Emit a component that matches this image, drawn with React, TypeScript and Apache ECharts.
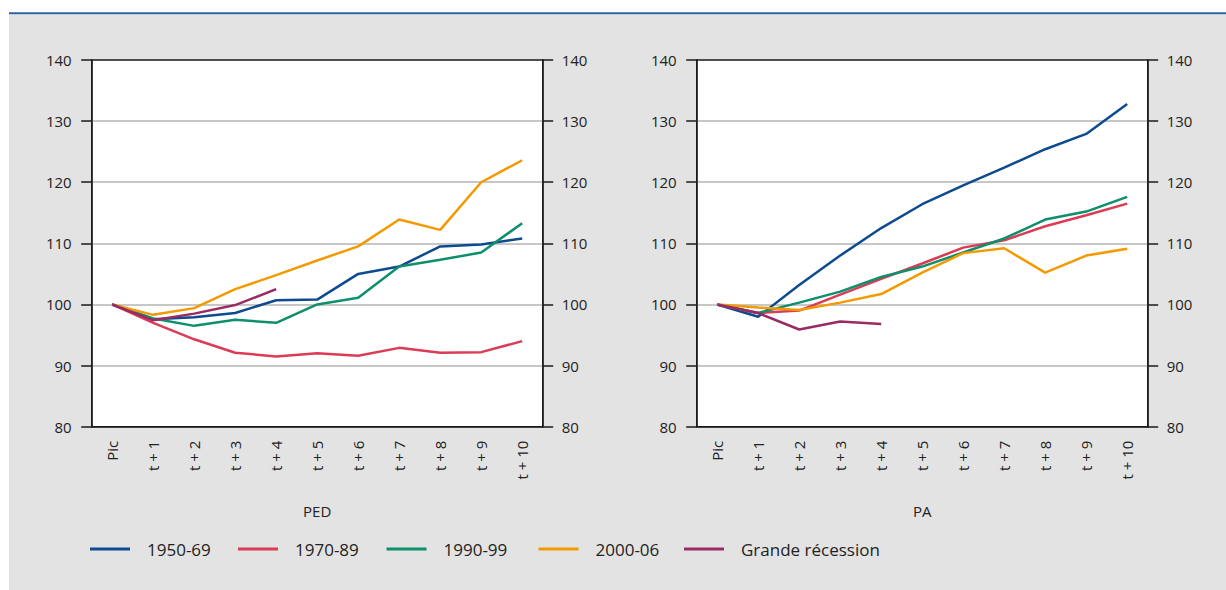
import React, { useEffect, useRef } from "react";
import * as echarts from "echarts";

const categories = ["Pic", "t + 1", "t + 2", "t + 3", "t + 4", "t + 5", "t + 6", "t + 7", "t + 8", "t + 9", "t + 10"];
const seriesNames = ["1950-69", "1970-89", "1990-99", "2000-06", "Grande récession"];
const seriesColors = ["#0d4a8f", "#dc3b55", "#0d8f6b", "#f39a00", "#9a2a63"];
const panelNames = ["PED", "PA"];

// PED panel
const ped1950 = [100, 97.6, 97.9, 98.6, 100.7, 100.8, 105.0, 106.2, 109.5, 109.8, 110.8];
const ped1970 = [100, 97.0, 94.3, 92.1, 91.5, 92.0, 91.6, 92.9, 92.1, 92.2, 94.0];
const ped1990 = [100, 97.7, 96.5, 97.5, 97.0, 100.0, 101.1, 106.2, 107.3, 108.5, 113.3];
const ped2000 = [100, 98.3, 99.4, 102.5, 104.8, 107.2, 109.5, 113.9, 112.2, 120.0, 123.6];
const pedGR = [100, 97.4, 98.5, 99.9, 102.5];

// PA panel
const pa1950 = [100, 98.0, 103.2, 108.0, 112.5, 116.4, 119.5, 122.4, 125.4, 127.9, 132.8];
const pa1970 = [100, 98.6, 99.0, 101.6, 104.2, 106.7, 109.3, 110.5, 112.8, 114.6, 116.5];
const pa1990 = [100, 98.6, 100.3, 102.1, 104.5, 106.2, 108.5, 110.8, 113.9, 115.2, 117.6];
const pa2000 = [100, 99.5, 99.1, 100.3, 101.7, 105.2, 108.4, 109.2, 105.2, 108.0, 109.1];
const paGR = [100, 98.6, 95.9, 97.2, 96.8];

const yMin = 80;
const yMax = 140;
const yInterval = 10;

const FONT = "'Open Sans', 'Noto Sans', sans-serif";
const TEXT = "#222222";
const AXIS = "#1a1a1a";

export default function App() {
  const ref = useRef<HTMLDivElement>(null);

  useEffect(() => {
    if (!ref.current) return;
    const chart = echarts.init(ref.current, undefined, { renderer: "svg" });

    const panels = [
      [ped1950, ped1970, ped1990, ped2000, pedGR],
      [pa1950, pa1970, pa1990, pa2000, paGR],
    ];
    const gridLefts = [91.7, 696.7];
    const gridWidth = 451;

    const grids = gridLefts.map((l) => ({
      left: l,
      top: 60,
      width: gridWidth,
      height: 366.7,
      show: true,
      backgroundColor: "#ffffff",
      borderColor: AXIS,
      borderWidth: 1.3,
    }));

    const xAxes = panelNames.map((name, i) => ({
      type: "category",
      gridIndex: i,
      data: categories,
      boundaryGap: true,
      axisLine: { lineStyle: { color: AXIS, width: 1.5 } },
      axisTick: { inside: true, length: 10.5, lineStyle: { color: AXIS, width: 1.5 } },
      axisLabel: { rotate: 90, margin: 14, interval: 0, color: TEXT, fontSize: 15, fontFamily: FONT },
      name,
      nameLocation: "middle",
      nameGap: 77,
      nameTextStyle: { color: TEXT, fontSize: 15, fontFamily: FONT },
    }));

    const yAxes: any[] = [];
    panelNames.forEach((_, i) => {
      const common = {
        type: "value",
        gridIndex: i,
        min: yMin,
        max: yMax,
        interval: yInterval,
        axisLine: { show: true, lineStyle: { color: AXIS, width: 1.5 } },
        axisTick: { show: true, inside: false, length: 10.5, lineStyle: { color: AXIS, width: 1.5 } },
      };
      yAxes.push({
        ...common,
        position: "left",
        axisLabel: { margin: 20, color: TEXT, fontSize: 15, fontFamily: FONT },
        splitLine: {
          show: true,
          showMinLine: false,
          showMaxLine: false,
          lineStyle: { color: "#b5b5b5", width: 1.5 },
        },
      });
      yAxes.push({
        ...common,
        position: "right",
        axisLabel: { margin: 19, color: TEXT, fontSize: 15, fontFamily: FONT },
        splitLine: { show: false },
      });
    });

    const series: any[] = [];
    panels.forEach((panel, p) => {
      panel.forEach((data, s) => {
        series.push({
          type: "line",
          name: seriesNames[s],
          data,
          xAxisIndex: p,
          yAxisIndex: p * 2,
          symbol: "none",
          silent: true,
          lineStyle: { color: seriesColors[s], width: 2.5 },
          itemStyle: { color: seriesColors[s] },
        });
      });
    });

    const legendLefts = [90, 238, 386.5, 538.5, 684];
    const legends = seriesNames.map((n, i) => ({
      data: [n],
      left: legendLefts[i],
      top: 539,
      padding: 0,
      icon: "rect",
      itemWidth: 40,
      itemHeight: 3,
      selectedMode: false,
      textStyle: { color: TEXT, fontSize: 17, fontFamily: FONT, lineHeight: 20, padding: [0, 0, 0, 12] },
    }));

    chart.setOption({
      animation: false,
      backgroundColor: "#ffffff",
      grid: grids,
      xAxis: xAxes,
      yAxis: yAxes,
      series,
      legend: legends,
      graphic: [
        {
          type: "rect",
          z: -100,
          silent: true,
          shape: { x: 9, y: 14.5, width: 1217, height: 576 },
          style: { fill: "#e3e3e3" },
        },
        {
          type: "line",
          z: -90,
          silent: true,
          shape: { x1: 9, y1: 13.3, x2: 1226, y2: 13.3 },
          style: { stroke: "#2a62a2", lineWidth: 2 },
        },
      ],
    });

    return () => chart.dispose();
  }, []);

  return (
    <div
      ref={ref}
      style={{ position: "absolute", left: 0, top: 0, width: 1226, height: 590 }}
    />
  );
}
